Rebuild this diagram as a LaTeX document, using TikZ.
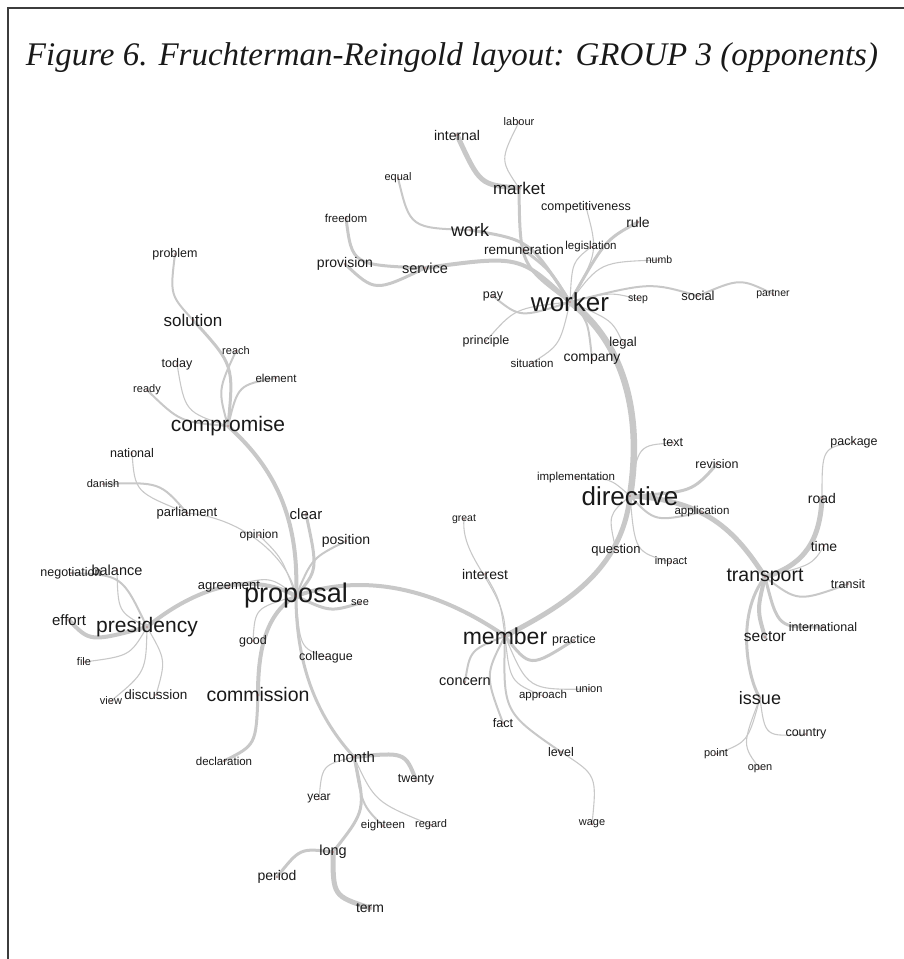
\documentclass[tikz,border=0pt]{standalone}
\usepackage{fontspec}
\setmainfont{Liberation Sans}
\newfontfamily\titlefont{Liberation Serif}
\usetikzlibrary{backgrounds}
\definecolor{edgec}{RGB}{200,200,200}
\definecolor{txt}{RGB}{25,25,25}
\definecolor{dotc}{RGB}{140,30,30}
\definecolor{framec}{RGB}{60,60,60}
\tikzset{
  fs/.style={font=\fontsize{#1pt}{#1pt}\selectfont, inner sep=0pt, text=txt},
  ea/.style={draw=edgec, line width=1.1pt, line cap=round},
  eb/.style={draw=edgec, line width=2pt, line cap=round},
  ec/.style={draw=edgec, line width=3pt, line cap=round},
  ed/.style={draw=edgec, line width=4pt, line cap=round},
  ee/.style={draw=edgec, line width=5pt, line cap=round},
  ef/.style={draw=edgec, line width=6.5pt, line cap=round},
}
\begin{document}
\begin{tikzpicture}[x=1pt,y=-1pt]
\useasboundingbox (0,0) rectangle (904,959);
\draw[framec, line width=1.3pt] (8,959) -- (8,8) -- (904,8);
\node[font=\titlefont\itshape\fontsize{33pt}{33pt}\selectfont, text=txt, inner sep=0pt] (title) at (452,58) {Figure 6. Fruchterman-Reingold layout: GROUP 3 (opponents)};

% nodes
\node[fs=26] (worker) at (570,302) {worker};
\node[fs=27] (proposal) at (296,596) {proposal};
\node[fs=26] (directive) at (630,496) {directive};
\node[fs=23] (member) at (505,636) {member};
\node[fs=21] (compromise) at (228,426) {compromise};
\node[fs=21] (presidency) at (147,627) {presidency};
\node[fs=19.5] (commission) at (258,695) {commission};
\node[fs=19.5] (transport) at (765,577) {transport};
\node[fs=18] (issue) at (760,698) {issue};
\node[fs=17] (market) at (519,188) {market};
\node[fs=18] (work) at (470,230) {work};
\node[fs=17] (solution) at (193,320) {solution};
\node[fs=14] (internal) at (457,135) {internal};
\node[fs=14.5] (service) at (425,268) {service};
\node[fs=14] (provision) at (345,264) {provision};
\node[fs=13.5] (remuneration) at (524,250) {remuneration};
\node[fs=12.5] (pay) at (493,296) {pay};
\node[fs=12.5] (principle) at (486,341) {principle};
\node[fs=11.5] (situation) at (532,363) {situation};
\node[fs=14] (company) at (592,359) {company};
\node[fs=11] (equal) at (398,178) {equal};
\node[fs=11.5] (freedom) at (346,218) {freedom};
\node[fs=11] (labour) at (519,122) {labour};
\node[fs=12.5] (competitiveness) at (586,207) {competitiveness};
\node[fs=14] (rule) at (638,222) {rule};
\node[fs=11.5] (legislation) at (591,247) {legislation};
\node[fs=10.5] (numb) at (659,260) {numb};
\node[fs=10.5] (step) at (638,299) {step};
\node[fs=13] (social) at (698,296) {social};
\node[fs=10.5] (partner) at (773,294) {partner};
\node[fs=13] (legal) at (623,343) {legal};
\node[fs=12.5] (problem) at (175,254) {problem};
\node[fs=12.5] (today) at (177,364) {today};
\node[fs=11] (reach) at (236,351) {reach};
\node[fs=11.5] (element) at (276,378) {element};
\node[fs=11] (ready) at (147,390) {ready};
\node[fs=12.5] (national) at (132,453) {national};
\node[fs=11] (danish) at (103,484) {danish};
\node[fs=13] (parliament) at (187,513) {parliament};
\node[fs=15] (clear) at (306,514) {clear};
\node[fs=12] (opinion) at (259,535) {opinion};
\node[fs=14] (position) at (346,541) {position};
\node[fs=14.5] (balance) at (117,570) {balance};
\node[fs=12.5] (negotiation) at (71,573) {negotiation};
\node[fs=13] (agreement) at (229,587) {agreement};
\node[fs=15] (effort) at (69,620) {effort};
\node[fs=11] (see) at (360,603) {see};
\node[fs=12.5] (good) at (253,641) {good};
\node[fs=11] (file) at (84,662) {file};
\node[fs=12.5] (colleague) at (326,657) {colleague};
\node[fs=11] (view) at (111,701) {view};
\node[fs=13.5] (discussion) at (156,695) {discussion};
\node[fs=11.5] (implementation) at (576,478) {implementation};
\node[fs=10.5] (great) at (464,519) {great};
\node[fs=14] (interest) at (485,574) {interest};
\node[fs=13] (question) at (616,550) {question};
\node[fs=12.5] (practice) at (574,640) {practice};
\node[fs=14.5] (concern) at (465,682) {concern};
\node[fs=11.5] (approach) at (543,696) {approach};
\node[fs=11] (union) at (589,689) {union};
\node[fs=12.5] (fact) at (503,723) {fact};
\node[fs=12.5] (level) at (561,752) {level};
\node[fs=11] (wage) at (592,824) {wage};
\node[fs=12.5] (text) at (673,443) {text};
\node[fs=12.5] (revision) at (717,464) {revision};
\node[fs=11.5] (application) at (702,512) {application};
\node[fs=11] (impact) at (671,562) {impact};
\node[fs=12.5] (package) at (854,442) {package};
\node[fs=14] (road) at (822,498) {road};
\node[fs=14] (time) at (824,546) {time};
\node[fs=12.5] (transit) at (848,584) {transit};
\node[fs=12.5] (international) at (823,627) {international};
\node[fs=15.5] (sector) at (765,637) {sector};
\node[fs=12.5] (country) at (806,734) {country};
\node[fs=11] (point) at (716,754) {point};
\node[fs=11] (open) at (760,769) {open};
\node[fs=11.5] (declaration) at (224,761) {declaration};
\node[fs=15] (month) at (354,757) {month};
\node[fs=12.5] (twenty) at (416,780) {twenty};
\node[fs=12] (year) at (319,799) {year};
\node[fs=11.5] (eighteen) at (383,826) {eighteen};
\node[fs=11] (regard) at (431,825) {regard};
\node[fs=14.5] (long) at (333,852) {long};
\node[fs=14] (period) at (277,877) {period};
\node[fs=14] (term) at (370,908) {term};

\begin{scope}[on background layer]
% worker cluster
\draw[ef] (worker.center) .. controls (615,335) and (645,400) .. (directive.center);
\draw[ec] (market.center) .. controls (520,265) .. (worker.center);
\draw[ee] (internal.center) .. controls (480,185) .. (market.center);
\draw[ea] (labour.center) .. controls (500,160) .. (market.center);
\draw[ec] (work.center) .. controls (530,240) .. (worker.center);
\draw[eb] (equal.center) .. controls (410,228) .. (work.center);
\draw[ed] (service.center) .. controls (520,255) .. (worker.center);
\draw[ec] (provision.center) .. controls (375,292) .. (service.center);
\draw[ec] (freedom.center) .. controls (352,265) .. (service.center);
\draw[ec] (remuneration.center) .. controls (550,270) .. (worker.center);
\draw[eb] (pay.center) .. controls (520,318) .. (worker.center);
\draw[ea] (principle.center) .. controls (515,308) .. (worker.center);
\draw[ea] (situation.center) .. controls (560,345) .. (worker.center);
\draw[eb] (company.center) .. controls (588,320) .. (worker.center);
\draw[ea] (legal.center) .. controls (612,320) .. (worker.center);
\draw[ea] (step.center) .. controls (610,292) .. (worker.center);
\draw[eb] (social.center) .. controls (650,282) .. (worker.center);
\draw[eb] (partner.center) .. controls (740,278) .. (social.center);
\draw[ea] (numb.center) .. controls (600,262) .. (worker.center);
\draw[ec] (rule.center) .. controls (605,240) .. (worker.center);
\draw[ea] (legislation.center) .. controls (572,262) .. (worker.center);
\draw[ea] (competitiveness.center) .. controls (598,252) .. (worker.center);
% directive cluster
\draw[ee] (directive.center) .. controls (622,570) and (565,605) .. (member.center);
\draw[ea] (directive.center) .. controls (638,445) .. (text.center);
\draw[ec] (directive.center) .. controls (692,492) .. (revision.center);
\draw[eb] (directive.center) .. controls (655,522) .. (application.center);
\draw[ee] (directive.center) .. controls (705,500) and (735,530) .. (transport.center);
\draw[ea] (implementation.center) .. controls (610,478) .. (directive.center);
\draw[ea] (directive.center) .. controls (608,515) .. (question.center);
\draw[ea] (directive.center) .. controls (635,552) .. (impact.center);
% member cluster
\draw[ed] (proposal.center) .. controls (375,568) and (450,598) .. (member.center);
\draw[ea] (great.center) .. controls (460,560) and (508,590) .. (member.center);
\draw[ea] (interest.center) .. controls (500,600) .. (member.center);
\draw[ec] (member.center) .. controls (530,668) .. (practice.center);
\draw[eb] (member.center) .. controls (470,650) .. (concern.center);
\draw[eb] (member.center) .. controls (485,675) .. (fact.center);
\draw[ea] (member.center) .. controls (510,682) .. (approach.center);
\draw[ea] (member.center) .. controls (528,690) .. (union.center);
\draw[eb] (member.center) .. controls (503,712) .. (level.center);
\draw[ea] (level.center) .. controls (597,775) .. (wage.center);
% transport cluster
\draw[ee] (transport.center) .. controls (805,565) and (820,540) .. (road.center);
\draw[ea] (road.center) .. controls (822,448) .. (package.center);
\draw[ea] (transport.center) .. controls (812,565) .. (time.center);
\draw[eb] (transport.center) .. controls (798,602) .. (transit.center);
\draw[ec] (transport.center) .. controls (778,628) .. (international.center);
\draw[ed] (transport.center) .. controls (757,610) .. (sector.center);
\draw[ec] (transport.center) .. controls (735,615) and (748,680) .. (issue.center);
\draw[ea] (issue.center) .. controls (765,737) .. (country.center);
\draw[ea] (issue.center) .. controls (748,742) .. (point.center);
\draw[ea] (issue.center) .. controls (742,745) .. (open.center);
% proposal cluster
\draw[ed] (compromise.center) .. controls (268,462) and (300,510) .. (proposal.center);
\draw[ec] (clear.center) .. controls (318,570) .. (proposal.center);
\draw[eb] (position.center) .. controls (312,558) .. (proposal.center);
\draw[ea] (opinion.center) .. controls (282,558) .. (proposal.center);
\draw[ea] (parliament.center) .. controls (245,518) and (290,560) .. (proposal.center);
\draw[ea] (agreement.center) .. controls (270,576) .. (proposal.center);
\draw[ed] (presidency.center) .. controls (180,600) and (240,565) .. (proposal.center);
\draw[ec] (proposal.center) .. controls (330,612) .. (see.center);
\draw[ea] (proposal.center) .. controls (255,608) .. (good.center);
\draw[ed] (proposal.center) .. controls (262,615) and (258,660) .. (commission.center);
\draw[ec] (commission.center) .. controls (256,745) .. (declaration.center);
\draw[ea] (proposal.center) .. controls (300,648) .. (colleague.center);
\draw[ec] (proposal.center) .. controls (296,670) and (320,720) .. (month.center);
% compromise cluster
\draw[eb] (problem.center) .. controls (170,295) .. (solution.center);
\draw[ec] (solution.center) .. controls (234,365) .. (compromise.center);
\draw[eb] (reach.center) .. controls (218,390) .. (compromise.center);
\draw[ea] (today.center) .. controls (185,412) .. (compromise.center);
\draw[eb] (element.center) .. controls (238,385) .. (compromise.center);
\draw[eb] (ready.center) .. controls (180,422) .. (compromise.center);
\draw[ea] (national.center) .. controls (135,492) .. (parliament.center);
\draw[eb] (danish.center) .. controls (160,482) .. (parliament.center);
% presidency cluster
\draw[ea] (balance.center) .. controls (118,612) .. (presidency.center);
\draw[eb] (negotiation.center) .. controls (122,575) .. (presidency.center);
\draw[ed] (effort.center) .. controls (90,642) .. (presidency.center);
\draw[ea] (file.center) .. controls (130,656) .. (presidency.center);
\draw[ea] (view.center) .. controls (146,672) .. (presidency.center);
\draw[ea] (discussion.center) .. controls (166,660) .. (presidency.center);
% month cluster
\draw[ed] (month.center) .. controls (405,752) .. (twenty.center);
\draw[ea] (year.center) .. controls (322,765) .. (month.center);
\draw[eb] (month.center) .. controls (362,805) .. (eighteen.center);
\draw[ea] (month.center) .. controls (375,802) .. (regard.center);
\draw[ec] (month.center) .. controls (366,810) .. (long.center);
\draw[ec] (long.center) .. controls (300,848) .. (period.center);
\draw[ee] (long.center) .. controls (333,896) .. (term.center);
\end{scope}

\foreach \n in {worker,proposal,directive,member,compromise,presidency,commission,transport,issue,market,work,solution,internal,service,provision,remuneration,pay,principle,situation,company,equal,freedom,labour,competitiveness,rule,legislation,numb,step,social,partner,legal,problem,today,reach,element,ready,national,danish,parliament,clear,opinion,position,balance,negotiation,agreement,effort,see,good,file,colleague,view,discussion,implementation,great,interest,question,practice,concern,approach,union,fact,level,wage,text,revision,application,impact,package,road,time,transit,international,sector,country,point,open,declaration,month,twenty,year,eighteen,regard,long,period,term}
  \fill[dotc] (\n.center) circle (0.7);
\end{tikzpicture}
\end{document}
